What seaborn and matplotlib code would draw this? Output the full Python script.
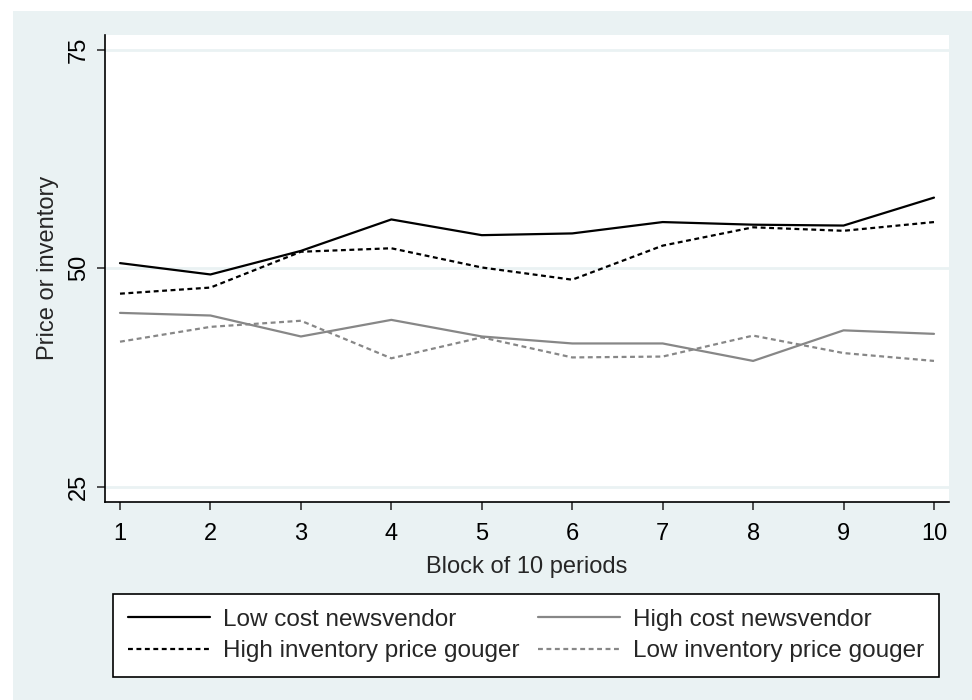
import numpy as np
import matplotlib
matplotlib.use('Agg')
import matplotlib.pyplot as plt
import pandas as pd
import seaborn as sns

blocks = list(range(1, 11))
low_cost = [50.6, 49.3, 52.0, 55.6, 53.8, 54.0, 55.3, 55.0, 54.9, 58.1]
high_cost = [44.9, 44.6, 42.2, 44.1, 42.2, 41.4, 41.4, 39.4, 42.9, 42.5]
high_inv_gouger = [47.1, 47.8, 51.9, 52.3, 50.1, 48.7, 52.6, 54.7, 54.3, 55.3]
low_inv_gouger = [41.6, 43.3, 44.0, 39.7, 42.1, 39.8, 39.9, 42.3, 40.3, 39.4]

series_names = ['Low cost newsvendor', 'High cost newsvendor',
                'High inventory price gouger', 'Low inventory price gouger']
series_values = [low_cost, high_cost, high_inv_gouger, low_inv_gouger]

df = pd.DataFrame({
    'block': blocks * len(series_names),
    'value': sum(series_values, []),
    'series': np.repeat(series_names, len(blocks)),
})

sns.set_theme(style='white')
plt.rcParams['font.family'] = ['Liberation Sans', 'DejaVu Sans']

bg = '#EAF2F3'
gray = '#878787'
palette = {series_names[0]: 'black', series_names[1]: gray,
           series_names[2]: 'black', series_names[3]: gray}
dashes = {series_names[0]: '', series_names[1]: '',
          series_names[2]: (2.2, 1.6), series_names[3]: (2.2, 1.6)}

fig = plt.figure(figsize=(9.72, 7.0), dpi=100)
fig.patch.set_facecolor('white')
fig.patches.append(plt.Rectangle((13 / 972, 0), 1, 1 - 11 / 700,
                                 transform=fig.transFigure,
                                 facecolor=bg, edgecolor='none', zorder=-10))
ax = fig.add_axes([105 / 972, 1 - 501.7 / 700, 844 / 972, 466.7 / 700])
ax.set_facecolor('white')

sns.lineplot(data=df, x='block', y='value', hue='series', style='series',
             palette=palette, dashes=dashes, linewidth=1.6, ax=ax,
             legend=False)

ax.set_xlim(0.834, 10.166)
ax.set_ylim(23.28, 76.72)
ax.set_xticks(blocks)
ax.set_yticks([25, 50, 75])
for yv in [25, 50, 75]:
    ax.axhline(yv, color=bg, linewidth=2, zorder=0)

for side in ['top', 'right']:
    ax.spines[side].set_visible(False)
for side in ['left', 'bottom']:
    ax.spines[side].set_color('black')
    ax.spines[side].set_linewidth(1.2)

ax.tick_params(axis='both', which='major', length=6, width=1.2,
               color='#333333', labelsize=17, labelcolor='black',
               bottom=True, left=True)
ax.tick_params(axis='x', pad=9)
ax.tick_params(axis='y', pad=5)
for lab in ax.get_yticklabels():
    lab.set_rotation(90)
    lab.set_va('center')

ax.set_xlabel('Block of 10 periods', fontsize=17, labelpad=8)
ax.set_ylabel('Price or inventory', fontsize=17, labelpad=6)

# legend is filled column by column, so order handles to read row by row
order = [0, 2, 1, 3]
handles = []
for i in order:
    name = series_names[i]
    ls = '-' if dashes[name] == '' else (0, dashes[name])
    handles.append(plt.Line2D([], [], color=palette[name], linewidth=1.6,
                              linestyle=ls, label=name))
leg = fig.legend(handles=handles, ncol=2, loc='upper left',
                 bbox_to_anchor=(113 / 972, 1 - 594 / 700),
                 fontsize=17.5, frameon=True, fancybox=False,
                 edgecolor='black', framealpha=1, handlelength=3.4,
                 handletextpad=0.52, borderaxespad=0, labelspacing=0.4,
                 borderpad=0.6, columnspacing=0.75)
leg.get_frame().set_linewidth(1.2)

fig.savefig('out.png', dpi=100, facecolor=fig.get_facecolor())
